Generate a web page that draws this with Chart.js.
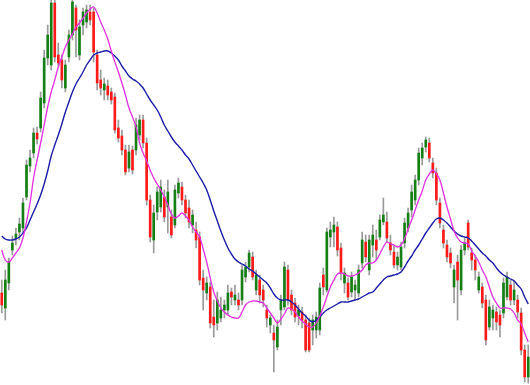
<!DOCTYPE html>
<html>
<head>
<meta charset="utf-8">
<script src="https://cdn.jsdelivr.net/npm/chart.js@4.4.1/dist/chart.umd.min.js"></script>
<style>
  body { margin: 0; background: #ffffff; }
  #chartBox { width: 530px; height: 385px; }
</style>
</head>
<body>
<div id="chartBox"><canvas id="myChart" width="530" height="385"></canvas></div>
<script>
// candle prices (no scale shown, units are arbitrary)
let opens = [92, 77, 102, 135, 147, 153, 157, 188, 219, 232,
    252, 257, 282, 327, 320, 382, 330, 325, 297, 328,
    350, 377, 330, 360, 363, 373, 373, 330, 305, 295,
    299, 293, 288, 257, 249, 235, 217, 235, 235, 250,
    265, 242, 185, 145, 173, 178, 188, 178, 168, 160,
    192, 198, 185, 177, 160, 155, 148, 107, 92, 98,
    68, 62, 67, 75, 75, 93, 85, 85, 85, 108,
    118, 128, 95, 105, 95, 75, 60, 52, 38, 75,
    78, 115, 90, 82, 69, 73, 65, 62, 55, 55,
    55, 110, 95, 148, 153, 158, 137, 102, 102, 93,
    95, 92, 122, 143, 115, 140, 145, 148, 163, 163,
    142, 133, 120, 118, 142, 157, 175, 185, 205, 227,
    238, 242, 222, 212, 182, 155, 140, 132, 98, 123,
    95, 135, 162, 132, 125, 95, 98, 85, 58, 67,
    73, 70, 72, 88, 100, 85, 85, 72, 35, 8];
let highs = [105, 115, 127, 149, 157, 167, 187, 225, 235, 257,
    258, 293, 335, 360, 385, 385, 342, 330, 325, 355,
    385, 380, 365, 377, 380, 380, 377, 335, 315, 307,
    305, 297, 292, 265, 255, 240, 240, 239, 267, 270,
    270, 247, 190, 180, 198, 205, 195, 205, 175, 200,
    207, 203, 190, 185, 175, 163, 153, 115, 108, 103,
    85, 93, 88, 85, 100, 97, 100, 92, 120, 123,
    135, 133, 115, 110, 100, 80, 70, 60, 65, 90,
    123, 120, 95, 87, 80, 78, 70, 67, 70, 73,
    102, 117, 157, 163, 168, 163, 142, 117, 107, 113,
    105, 120, 153, 150, 150, 160, 155, 170, 187, 173,
    150, 140, 133, 143, 167, 177, 200, 210, 237, 242,
    248, 247, 227, 217, 187, 160, 145, 137, 120, 130,
    140, 147, 165, 137, 130, 113, 102, 90, 85, 80,
    78, 75, 107, 113, 105, 105, 90, 77, 40, 40];
let lows = [72, 65, 95, 130, 140, 145, 153, 185, 213, 227,
    241, 253, 277, 320, 315, 323, 319, 297, 293, 323,
    345, 328, 325, 350, 357, 360, 323, 295, 290, 285,
    285, 281, 252, 243, 230, 210, 213, 211, 230, 245,
    237, 180, 143, 132, 165, 173, 163, 152, 147, 157,
    187, 180, 167, 157, 152, 137, 100, 75, 85, 57,
    48, 55, 63, 67, 70, 80, 80, 75, 80, 103,
    113, 105, 90, 82, 78, 58, 52, 13, 35, 60,
    75, 80, 70, 63, 60, 57, 33, 33, 40, 47,
    50, 90, 93, 138, 138, 129, 105, 92, 85, 88,
    85, 88, 117, 123, 110, 128, 125, 145, 160, 143,
    130, 117, 115, 115, 137, 153, 168, 180, 200, 220,
    233, 223, 207, 180, 157, 137, 123, 117, 82, 65,
    90, 130, 135, 115, 105, 92, 77, 40, 55, 55,
    55, 48, 67, 85, 80, 80, 67, 30, 3, 2];
let closes = [80, 105, 123, 142, 151, 161, 182, 220, 227, 252,
    246, 287, 327, 350, 382, 328, 322, 305, 320, 350,
    383, 355, 358, 373, 375, 365, 333, 302, 297, 301,
    290, 285, 255, 247, 235, 213, 233, 215, 260, 265,
    242, 185, 148, 172, 193, 198, 168, 193, 150, 195,
    202, 185, 172, 163, 170, 145, 105, 95, 102, 62,
    60, 85, 75, 80, 92, 88, 90, 80, 115, 118,
    132, 108, 110, 90, 85, 67, 67, 45, 58, 85,
    118, 85, 75, 68, 75, 65, 35, 35, 65, 68,
    97, 98, 153, 155, 160, 135, 112, 112, 88, 108,
    100, 115, 145, 128, 145, 150, 135, 165, 170, 147,
    135, 120, 128, 138, 162, 172, 193, 205, 232, 237,
    245, 227, 212, 185, 162, 142, 128, 122, 115, 105,
    135, 142, 138, 125, 115, 108, 82, 45, 78, 75,
    63, 60, 102, 108, 85, 95, 73, 35, 8, 28];

// the two moving average lines, as drawn
let fastMA = [135, 125, 123, 127, 132, 137, 147, 163, 182, 207,
    225, 242, 260, 278, 293, 305, 318, 328, 338, 345,
    351, 358, 362, 367, 372, 376, 378, 372, 363, 355,
    346, 334, 323, 313, 302, 290, 277, 268, 258, 242,
    232, 224, 215, 207, 201, 195, 188, 180, 171, 167,
    169, 172, 169, 165, 158, 153, 148, 136, 123, 107,
    93, 84, 77, 73, 70, 68, 67, 67, 73, 80,
    83, 84, 84, 83, 82, 77, 72, 67, 62, 66,
    71, 77, 76, 73, 68, 64, 61, 58, 58, 62,
    69, 78, 88, 98, 105, 111, 112, 111, 109, 109,
    110, 112, 115, 120, 122, 122, 125, 131, 138, 143,
    141, 140, 138, 140, 146, 156, 165, 175, 185, 194,
    205, 211, 215, 211, 205, 192, 178, 166, 154, 147,
    143, 142, 141, 134, 129, 123, 115, 108, 98, 88,
    82, 77, 77, 77, 76, 72, 65, 61, 52, 43];
let slowMA = [149, 146, 145, 145, 146, 148, 152, 157, 165, 173,
    181, 190, 201, 214, 229, 240, 250, 261, 273, 283,
    293, 301, 307, 313, 320, 325, 330, 332, 333, 334,
    334, 332, 329, 325, 319, 314, 309, 306, 304, 301,
    297, 291, 285, 280, 275, 268, 260, 254, 248, 243,
    239, 235, 230, 226, 220, 214, 208, 202, 195, 185,
    174, 164, 154, 145, 137, 131, 126, 123, 121, 119,
    116, 114, 111, 108, 105, 102, 97, 91, 87, 85,
    85, 85, 83, 80, 76, 72, 69, 65, 63, 65,
    68, 72, 75, 77, 79, 81, 83, 83, 83, 84,
    85, 86, 88, 90, 92, 93, 97, 101, 105, 108,
    109, 110, 111, 113, 118, 124, 129, 135, 140, 146,
    152, 157, 162, 166, 167, 165, 162, 158, 154, 151,
    149, 148, 147, 144, 140, 136, 132, 129, 125, 122,
    117, 113, 110, 108, 106, 104, 100, 96, 88, 81];

let labels = [];
let bodies = [];
let wicks = [];
let bodyColors = [];
for (let i = 0; i < opens.length; i++) {
    labels.push(String(i + 1));
    bodies.push([opens[i], closes[i]]);
    wicks.push([lows[i], highs[i]]);
    bodyColors.push(closes[i] >= opens[i] ? '#157f15' : '#ff1a1a');
}

const ctx = document.getElementById('myChart');

new Chart(ctx, {
    type: 'bar',
    data: {
        labels: labels,
        datasets: [{
            type: 'line',
            label: 'fast',
            data: fastMA,
            borderColor: '#e030e0',
            borderWidth: 1.3,
            pointRadius: 0,
            tension: 0.4,
            order: 0
        },
        {
            type: 'line',
            label: 'slow',
            data: slowMA,
            borderColor: '#1c1ca8',
            borderWidth: 1.4,
            pointRadius: 0,
            tension: 0.4,
            order: 1
        },
        {
            label: 'body',
            data: bodies,
            backgroundColor: bodyColors,
            barThickness: 2,
            grouped: false,
            order: 2
        },
        {
            label: 'wick',
            data: wicks,
            backgroundColor: '#9a9a9a',
            barThickness: 1,
            grouped: false,
            order: 3
        }
        ],
    },
    options: {
        responsive: false,
        animation: false,
        layout: { padding: 0 },
        plugins: {
            legend: { display: false },
            tooltip: { enabled: false }
        },
        scales: {
            x: { display: false },
            y: { display: false, min: 0, max: 385 }
        }
    }
});
</script>
</body>
</html>
